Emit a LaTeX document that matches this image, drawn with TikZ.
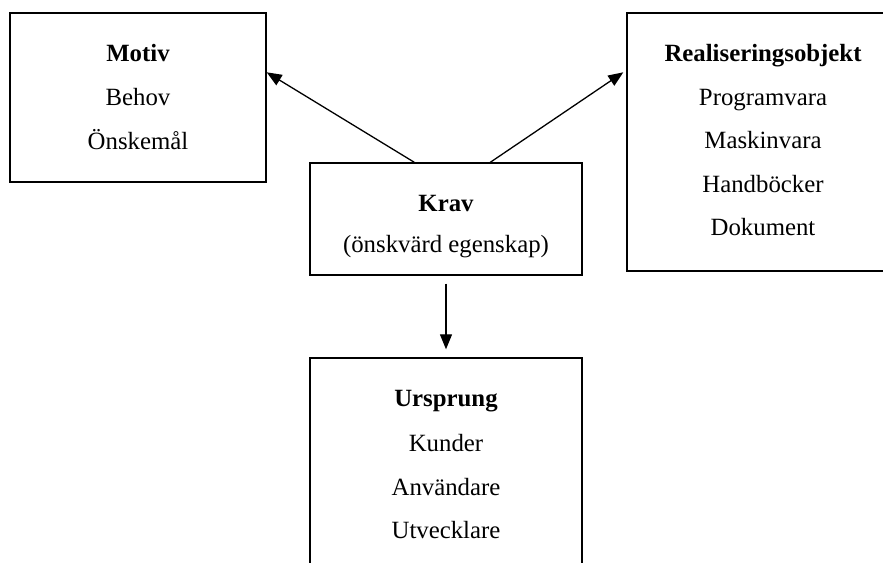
\documentclass[tikz,border=0pt]{standalone}
\usepackage{fontspec}
\setmainfont{Liberation Serif}
\usetikzlibrary{arrows.meta,calc}
\tikzset{
  box/.style={draw, line width=1.4pt, rectangle, inner sep=0pt},
  txt/.style={font=\fontsize{24.8pt}{30pt}\selectfont, inner sep=0pt, anchor=base},
  arr/.style={line width=1.3pt, -{Triangle[length=15pt,width=12pt]}}
}
\begin{document}
\begin{tikzpicture}[x=1pt,y=-1pt]
\useasboundingbox (0,0) rectangle (883,562);
\clip (0,0) rectangle (883,562);
\fill[white] (0,0) rectangle (883,562);
% boxes
\node[box, minimum width=256pt, minimum height=169pt] (motiv) at (138,97.5) {};
\node[box, minimum width=272pt, minimum height=258pt] (real) at (763,142) {};
\node[box, minimum width=272pt, minimum height=112pt] (krav) at (446,219) {};
\node[box, minimum width=272pt, minimum height=232pt] (urs) at (446,474) {};
% texts
\node[txt] (m1) at (138,61.5) {\textbf{Motiv}};
\node[txt] (m2) at (138,105.5) {Behov};
\node[txt] (m3) at (138,149) {Önskemål};
\node[txt] (r1) at (763,61.5) {\textbf{Realiseringsobjekt}};
\node[txt] (r2) at (763,105) {Programvara};
\node[txt] (r3) at (763,148.5) {Maskinvara};
\node[txt] (r4) at (763,192.5) {Handböcker};
\node[txt] (r5) at (763,235.5) {Dokument};
\node[txt] (k1) at (446,211.5) {\textbf{Krav}};
\node[txt] (k2) at (446,252) {(önskvärd egenskap)};
\node[txt] (u1) at (446,406.5) {\textbf{Ursprung}};
\node[txt] (u2) at (446,451.5) {Kunder};
\node[txt] (u3) at (446,495) {Användare};
\node[txt] (u4) at (446,538.5) {Utvecklare};
% connectors
\coordinate (ka) at ($(krav.north west)+(105,0)$);
\coordinate (kb) at ($(krav.north west)+(181,0)$);
\coordinate (ma) at ($(motiv.north east)+(0,60)$);
\coordinate (ra) at ($(real.north west)+(-3,60)$);
\draw[arr] (ka) -- (ma);
\draw[arr] (kb) -- (ra);
\draw[arr, shorten <=8pt, shorten >=8pt] (krav.south) -- (urs.north);
\end{tikzpicture}
\end{document}
